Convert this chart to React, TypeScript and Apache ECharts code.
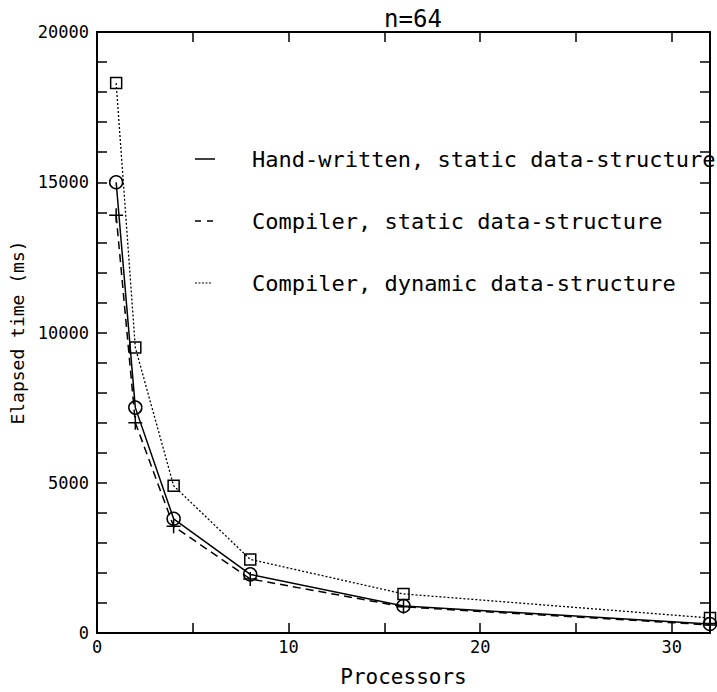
import React, { useEffect, useRef } from "react";
import * as echarts from "echarts";

const processors = [1, 2, 4, 8, 16, 32];
const handWritten = [15000, 7500, 3800, 1950, 900, 300];
const compilerStatic = [13900, 7000, 3550, 1800, 870, 270];
const compilerDynamic = [18300, 9500, 4900, 2450, 1300, 500];
const legendLabels = [
  "Hand-written, static data-structure",
  "Compiler, static data-structure",
  "Compiler, dynamic data-structure",
];

const FONT = "DejaVu Sans Mono";

export default function App() {
  const ref = useRef<HTMLDivElement>(null);
  useEffect(() => {
    if (!ref.current) return;
    const chart = echarts.init(ref.current, undefined, { renderer: "svg" });
    const toPairs = (ys: number[]) => processors.map((x, i) => [x, ys[i]]);
    const axisLine = { show: true, onZero: false, lineStyle: { color: "#000", width: 2 } };
    const tick = { show: true, inside: true, length: 10, lineStyle: { color: "#000", width: 1.5 } };
    chart.setOption({
      animation: false,
      backgroundColor: "#fff",
      title: {
        text: "n=64",
        left: 408,
        top: 2,
        textAlign: "center",
        textStyle: { fontFamily: FONT, fontSize: 24, fontWeight: "normal", color: "#000" },
      },
      grid: { left: 96, right: 7, top: 32, bottom: 55 },
      xAxis: [
        {
          type: "value",
          min: 0,
          max: 32,
          interval: 5,
          name: "Processors",
          nameLocation: "middle",
          nameGap: 33,
          nameTextStyle: { fontFamily: FONT, fontSize: 21, color: "#000" },
          axisLine,
          axisTick: tick,
          splitLine: { show: false },
          axisLabel: {
            fontFamily: FONT,
            fontSize: 17,
            color: "#000",
            margin: 5,
            formatter: (v: number) => (v % 10 === 0 ? String(v) : ""),
          },
        },
        {
          type: "value",
          min: 0,
          max: 32,
          interval: 5,
          position: "top",
          axisLine,
          axisTick: tick,
          splitLine: { show: false },
          axisLabel: { show: false },
        },
      ],
      yAxis: [
        {
          type: "value",
          min: 0,
          max: 20000,
          interval: 1000,
          name: "Elapsed time (ms)",
          nameLocation: "middle",
          nameGap: 71,
          nameTextStyle: { fontFamily: FONT, fontSize: 18, color: "#000" },
          axisLine,
          axisTick: tick,
          splitLine: { show: false },
          axisLabel: {
            fontFamily: FONT,
            fontSize: 17,
            color: "#000",
            margin: 8,
            formatter: (v: number) => (v % 5000 === 0 ? String(v) : ""),
          },
        },
        {
          type: "value",
          min: 0,
          max: 20000,
          interval: 1000,
          position: "right",
          axisLine,
          axisTick: tick,
          splitLine: { show: false },
          axisLabel: { show: false },
        },
      ],
      series: [
        {
          name: legendLabels[0],
          type: "line",
          data: toPairs(handWritten),
          symbol: "circle",
          symbolSize: 13,
          lineStyle: { color: "#000", width: 1.5, type: "solid" },
          itemStyle: { color: "rgba(0,0,0,0)", borderColor: "#000", borderWidth: 1.5 },
          z: 3,
        },
        {
          name: legendLabels[1],
          type: "line",
          data: toPairs(compilerStatic),
          symbol: "path://M5 0 L5 10 M0 5 L10 5",
          symbolSize: 14,
          lineStyle: { color: "#000", width: 1.5, type: [8, 5] },
          itemStyle: { color: "rgba(0,0,0,0)", borderColor: "#000", borderWidth: 1.5 },
          z: 2,
        },
        {
          name: legendLabels[2],
          type: "line",
          data: toPairs(compilerDynamic),
          symbol: "rect",
          symbolSize: 11,
          lineStyle: { color: "#000", width: 1.3, type: [2, 2] },
          itemStyle: { color: "rgba(0,0,0,0)", borderColor: "#000", borderWidth: 1.5 },
          z: 1,
        },
      ],
      graphic: [
        { type: "line", shape: { x1: 195, y1: 159, x2: 215, y2: 159 }, style: { stroke: "#000", lineWidth: 1.5 } },
        { type: "line", shape: { x1: 195, y1: 221, x2: 215, y2: 221 }, style: { stroke: "#000", lineWidth: 1.5, lineDash: [6, 6] } },
        { type: "line", shape: { x1: 195, y1: 283, x2: 212, y2: 283 }, style: { stroke: "#000", lineWidth: 1.2, lineDash: [2, 1.5] } },
        ...legendLabels.map((t, i) => ({
          type: "text",
          x: 252,
          y: 159 + i * 62,
          style: {
            text: t,
            fontFamily: FONT,
            fontSize: 22,
            fill: "#000",
            textVerticalAlign: "middle",
            verticalAlign: "middle",
          },
        })),
      ],
    });
    return () => chart.dispose();
  }, []);
  return (
    <div
      ref={ref}
      style={{ position: "absolute", left: 0, top: 0, width: 717, height: 692 }}
    />
  );
}
